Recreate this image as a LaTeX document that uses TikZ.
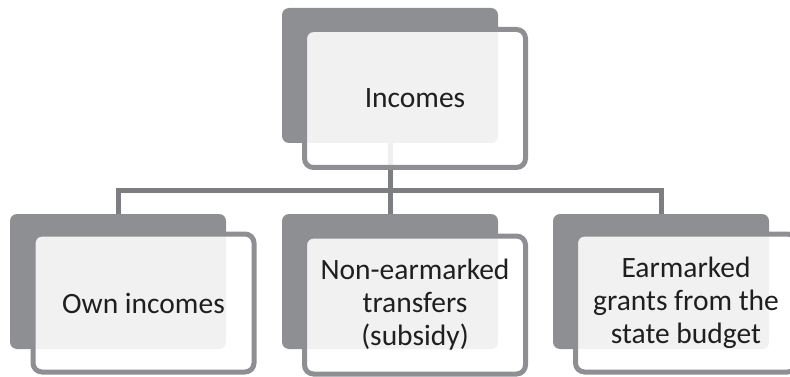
\documentclass[tikz,border=0pt]{standalone}
\usepackage{fontspec}
\setmainfont{Carlito}
\usepackage{tikz}
\usepackage{xcolor}
\usetikzlibrary{positioning}
\definecolor{boxgray}{HTML}{8E8F93}
\definecolor{linegray}{HTML}{7D7E82}
\tikzstyle{back} = [fill=boxgray, rounded corners=7pt, minimum width=216pt, minimum height=135pt, inner sep=0pt]
\tikzstyle{front} = [draw=boxgray, line width=5pt, fill=white, fill opacity=0.88, text opacity=1, rounded corners=9pt, minimum width=221pt, minimum height=138pt, inner sep=0pt, align=center, text=black!88, font=\fontsize{29.5}{33}\selectfont]
\tikzstyle{link} = [draw=linegray, line width=5pt]

\begin{document}
\begin{tikzpicture}[x=1pt,y=-1pt]
			\useasboundingbox (0,0) rectangle (790,377);
			\node[back] (incb) at (390,75.5) {};
			\node[back] (ownb) at (118,281.5) {};
			\node[back] (nonb) at (390,281.5) {};
			\node[back] (earb) at (661,281.5) {};
			\coordinate (hub) at (390,190);
			\draw[link] (incb.south) -- (hub) -| (ownb.north);
			\draw[link] (hub) -| (earb.north);
			\draw[link] (hub) -- (nonb.north);
			\node[front] (inc) at (415,98.5) {Incomes};
			\node[front] (own) at (143.5,303) {Own incomes};
			\node[front] (non) at (415,305) {Non-earmarked\\transfers\\(subsidy)};
			\node[front] (ear) at (686,303) {Earmarked\\grants from the\\state budget};
		\end{tikzpicture}
\end{document}
